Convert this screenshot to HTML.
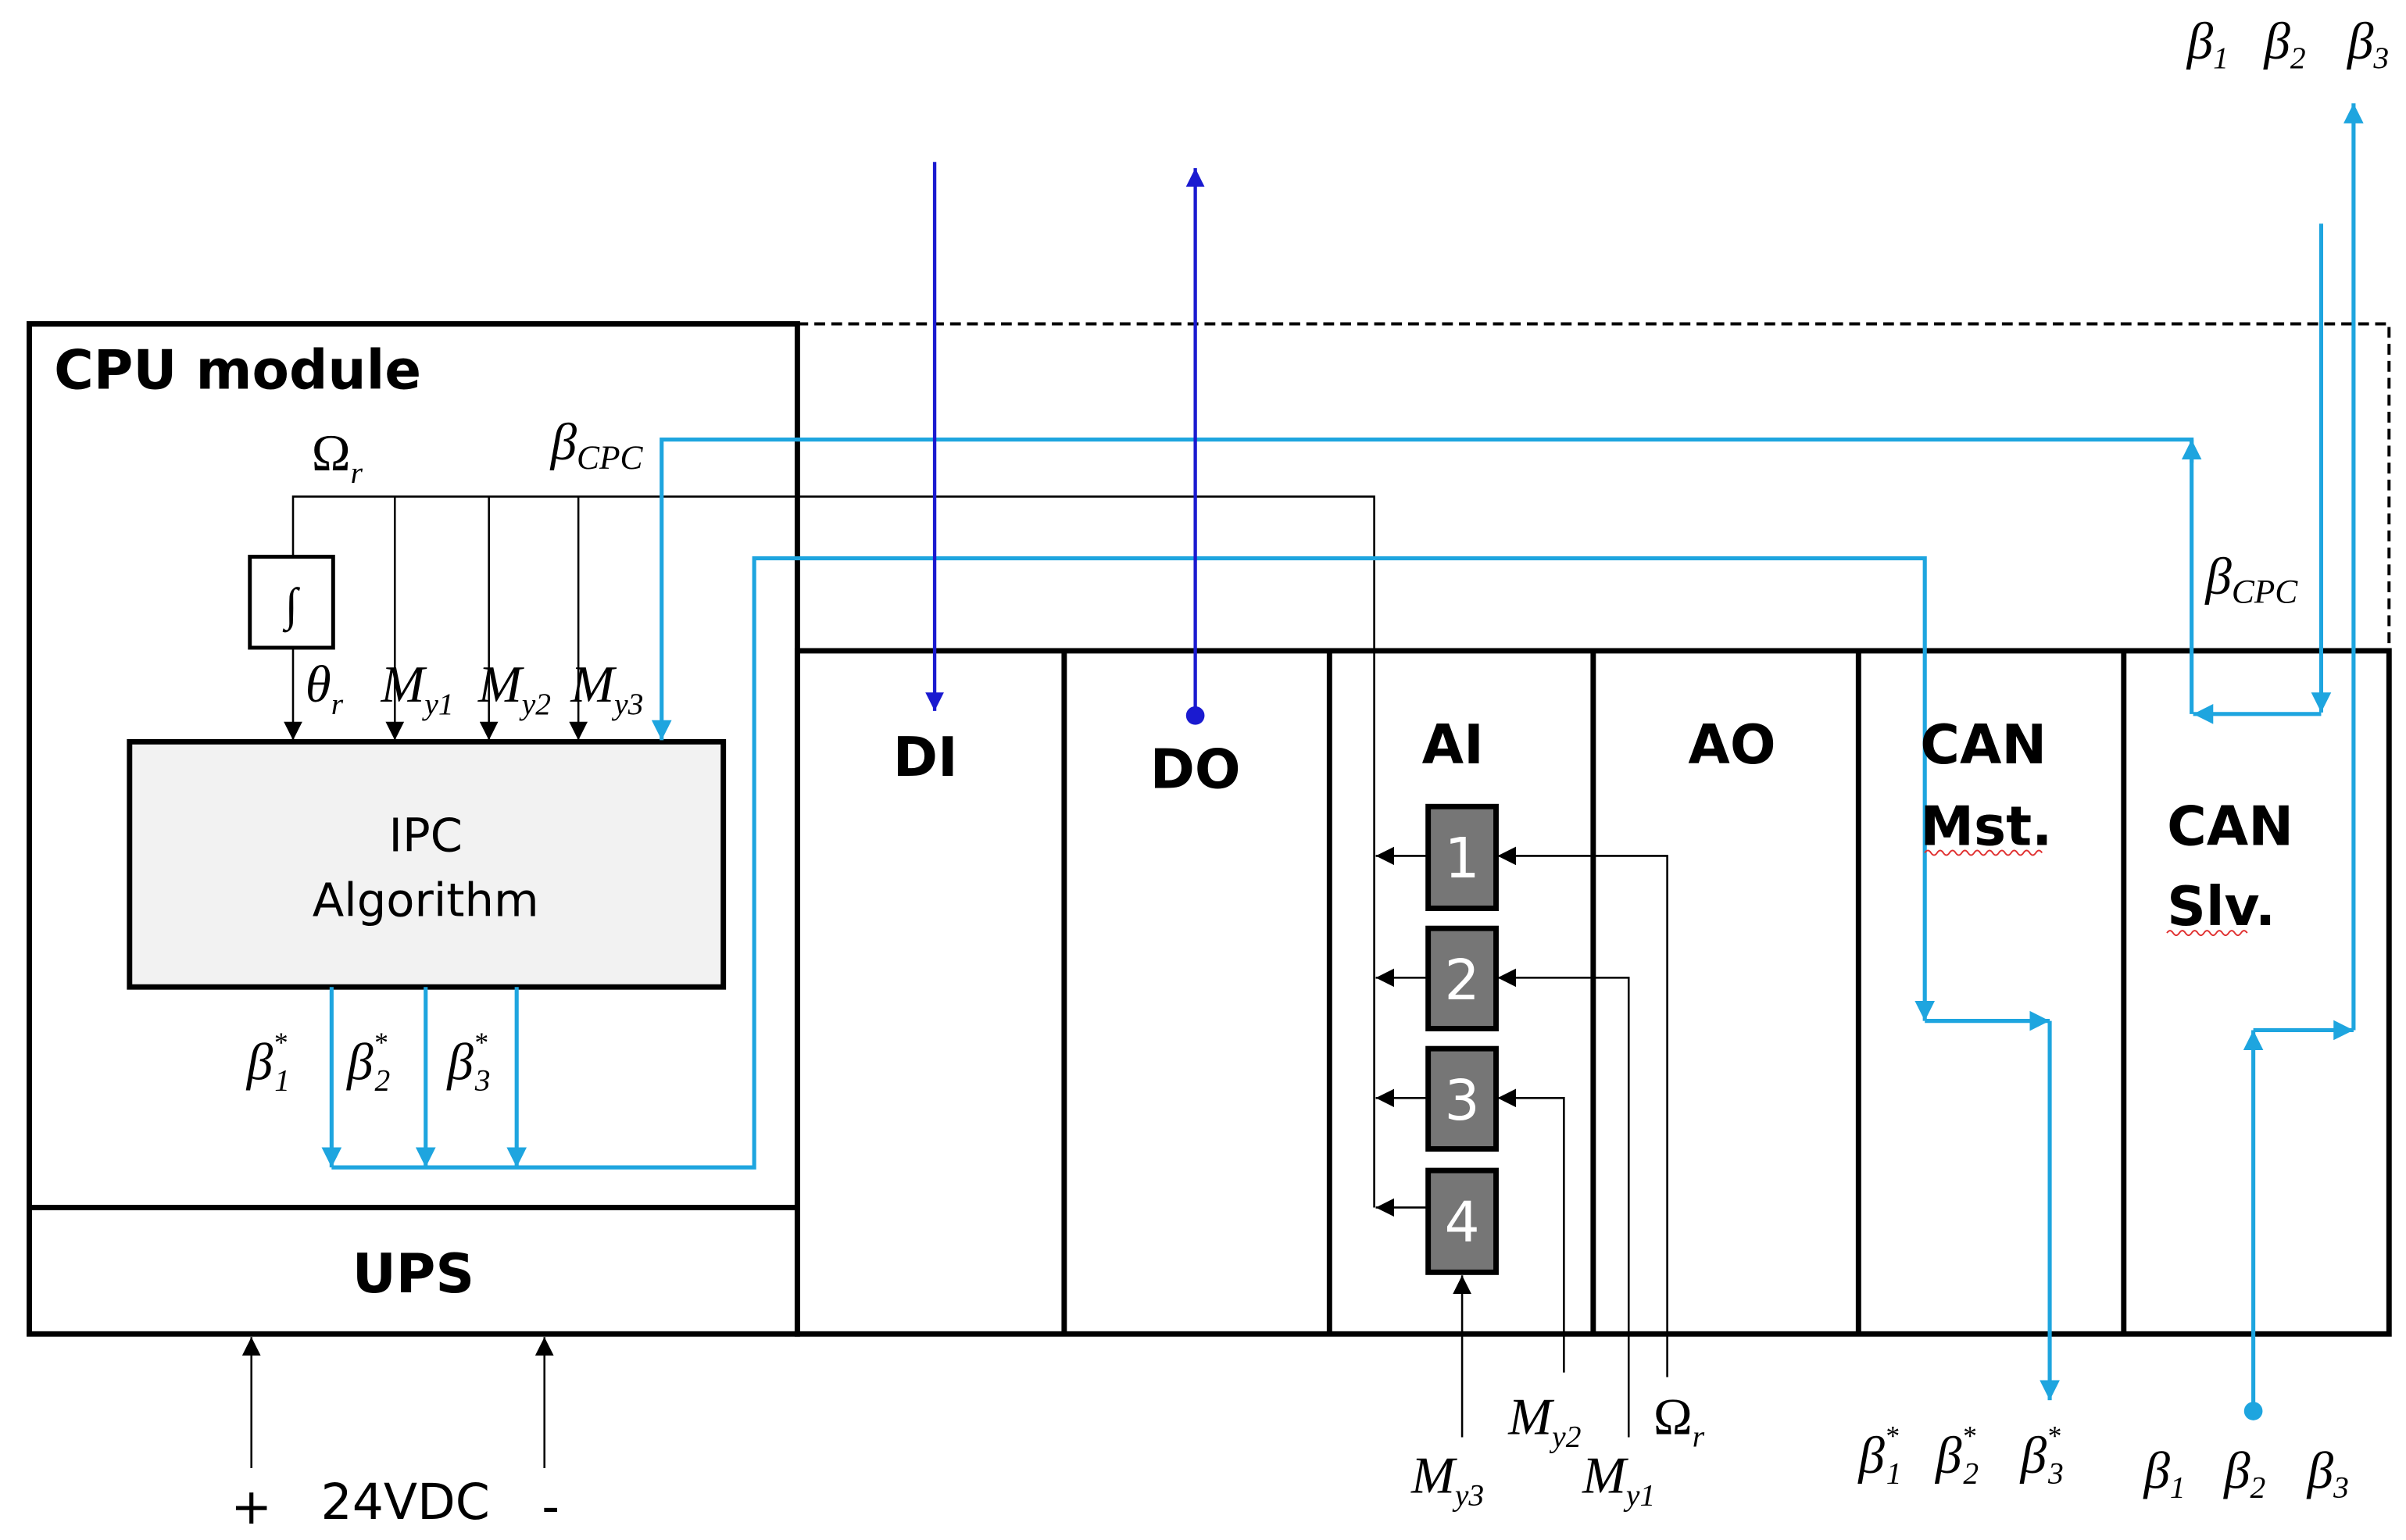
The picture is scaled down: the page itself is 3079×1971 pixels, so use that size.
<!DOCTYPE html>
<html><head><meta charset="utf-8"><style>html,body{margin:0;padding:0;background:#fff}svg{display:block}</style></head>
<body>
<svg width="3079" height="1971" viewBox="0 0 1560 998.6" xmlns="http://www.w3.org/2000/svg">
<defs>
<marker id="ab" viewBox="0 0 10 10" refX="10" refY="5" markerWidth="12" markerHeight="12" markerUnits="userSpaceOnUse" orient="auto"><path d="M0,0L10,5L0,10z" fill="#000"/></marker>
<marker id="au" viewBox="0 0 10 10" refX="10" refY="5" markerWidth="13" markerHeight="13" markerUnits="userSpaceOnUse" orient="auto"><path d="M0,0L10,5L0,10z" fill="#1ea5df"/></marker>
<marker id="ad" viewBox="0 0 10 10" refX="10" refY="5" markerWidth="12" markerHeight="12" markerUnits="userSpaceOnUse" orient="auto"><path d="M0,0L10,5L0,10z" fill="#1a1ad0"/></marker>
</defs>
<rect width="1560" height="998.6" fill="#fff"/>
<path d="M517,210 H1549 V422" fill="none" stroke="#000" stroke-width="2" stroke-dasharray="7,4"/>
<g fill="none" stroke="#000" stroke-width="3.5">
<rect x="517" y="422" width="1032" height="443"/>
<line x1="690" y1="422" x2="690" y2="865"/>
<line x1="862" y1="422" x2="862" y2="865"/>
<line x1="1033" y1="422" x2="1033" y2="865"/>
<line x1="1205" y1="422" x2="1205" y2="865"/>
<line x1="1377" y1="422" x2="1377" y2="865"/>
<rect x="19" y="210" width="498" height="655"/>
<line x1="19" y1="783" x2="517" y2="783"/>
</g>
<g fill="none" stroke="#000" stroke-width="1.3">
<path d="M190,360 V322 H891 V783"/>
<line x1="190" y1="420" x2="190" y2="480" marker-end="url(#ab)"/>
<line x1="256" y1="322" x2="256" y2="480" marker-end="url(#ab)"/>
<line x1="317" y1="322" x2="317" y2="480" marker-end="url(#ab)"/>
<line x1="375" y1="322" x2="375" y2="480" marker-end="url(#ab)"/>
<line x1="925" y1="555" x2="892" y2="555" marker-end="url(#ab)"/>
<line x1="925" y1="634" x2="892" y2="634" marker-end="url(#ab)"/>
<line x1="925" y1="712" x2="892" y2="712" marker-end="url(#ab)"/>
<line x1="925" y1="783" x2="892" y2="783" marker-end="url(#ab)"/>
<path d="M1081,893 V555 H971" marker-end="url(#ab)"/>
<path d="M1056,932 V634 H971" marker-end="url(#ab)"/>
<path d="M1014,890 V712 H971" marker-end="url(#ab)"/>
<line x1="948" y1="932" x2="948" y2="827" marker-end="url(#ab)"/>
<line x1="163" y1="952" x2="163" y2="867" marker-end="url(#ab)"/>
<line x1="353" y1="952" x2="353" y2="867" marker-end="url(#ab)"/>
</g>
<rect x="162" y="361" width="54" height="59" fill="#fff" stroke="#000" stroke-width="2.5"/>
<text x="189" y="402" font-family="Liberation Serif,serif" font-size="30" text-anchor="middle">∫</text>
<rect x="84" y="481" width="385" height="159" fill="#f2f2f2" stroke="#000" stroke-width="3.5"/>
<text x="276" y="552" font-family="DejaVu Sans,sans-serif" font-size="30" text-anchor="middle">IPC</text>
<text x="276" y="594" font-family="DejaVu Sans,sans-serif" font-size="30" text-anchor="middle">Algorithm</text>
<g stroke="#000" stroke-width="3.5" fill="#767676">
<rect x="926" y="523" width="44" height="66"/>
<rect x="926" y="602" width="44" height="65"/>
<rect x="926" y="680" width="44" height="65"/>
<rect x="926" y="759" width="44" height="66"/>
</g>
<g font-family="DejaVu Sans,sans-serif" font-size="36" fill="#fff" text-anchor="middle">
<text x="948" y="569">1</text><text x="948" y="648">2</text><text x="948" y="726">3</text><text x="948" y="805">4</text>
</g>
<g fill="none" stroke="#1ea5df" stroke-width="2.6">
<path d="M1421,463 V285 H429 V480" marker-end="url(#au)"/>
<line x1="1421" y1="300" x2="1421" y2="285" marker-end="url(#au)"/>
<path d="M1505,145 V462" marker-end="url(#au)"/>
<path d="M1505,463 H1422" marker-end="url(#au)"/>
<line x1="215" y1="640" x2="215" y2="757" marker-end="url(#au)"/>
<line x1="276" y1="640" x2="276" y2="757" marker-end="url(#au)"/>
<line x1="335" y1="640" x2="335" y2="757" marker-end="url(#au)"/>
<path d="M215,757 H489 V362 H1248 V662" marker-end="url(#au)"/>
<path d="M1248,662 H1329" marker-end="url(#au)"/>
<path d="M1329,662 V908" marker-end="url(#au)"/>
<path d="M1461,915 V668" marker-end="url(#au)"/>
<path d="M1461,668 H1526" marker-end="url(#au)"/>
<path d="M1526,668 V67" marker-end="url(#au)"/>
</g>
<circle cx="1461" cy="915" r="6" fill="#1ea5df"/>
<line x1="606" y1="105" x2="606" y2="461" stroke="#1a1ad0" stroke-width="2.2" marker-end="url(#ad)"/>
<line x1="775" y1="464" x2="775" y2="109" stroke="#1a1ad0" stroke-width="2.2" marker-end="url(#ad)"/>
<circle cx="775" cy="464" r="6" fill="#1a1ad0"/>
<g font-family="DejaVu Sans,sans-serif" font-weight="bold" font-size="35" fill="#000">
<text x="35" y="252">CPU module</text>
<text x="268" y="838" text-anchor="middle">UPS</text>
<text x="600" y="503" text-anchor="middle">DI</text>
<text x="775" y="511" text-anchor="middle">DO</text>
<text x="942" y="495" text-anchor="middle">AI</text>
<text x="1123" y="495" text-anchor="middle">AO</text>
<text x="1245" y="495">CAN</text>
<text x="1245" y="548">Mst.</text>
<text x="1405" y="548">CAN</text>
<text x="1405" y="600">Slv.</text>
</g>
<path d="M1248,553 q2,-3 4,0 t4,0 t4,0 t4,0 t4,0 t4,0 t4,0 t4,0 t4,0 t4,0 t4,0 t4,0 t4,0 t4,0 t4,0 t4,0 t4,0 t4,0 t4,0" fill="none" stroke="#e03030" stroke-width="1"/>
<path d="M1405,605 q2,-3 4,0 t4,0 t4,0 t4,0 t4,0 t4,0 t4,0 t4,0 t4,0 t4,0 t4,0 t4,0 t4,0" fill="none" stroke="#e03030" stroke-width="1"/>
<g font-family="DejaVu Sans,sans-serif" font-size="32">
<text x="163" y="988" text-anchor="middle">+</text>
<text x="208" y="985">24VDC</text>
<text x="357" y="988" text-anchor="middle">-</text>
</g>
<g font-family="Liberation Serif,serif" font-style="italic" font-size="34" fill="#000">
<text x="202" y="305"><tspan font-style="normal">Ω</tspan><tspan font-size="20" dy="8">r</tspan></text>
<text x="357" y="298">β<tspan font-size="22" dy="6">CPC</tspan></text>
<text x="1430" y="385">β<tspan font-size="22" dy="6">CPC</tspan></text>
<text x="198" y="455">θ<tspan font-size="20" dy="8">r</tspan></text>
<text x="247" y="455">M<tspan font-size="20" dy="8">y1</tspan></text>
<text x="310" y="455">M<tspan font-size="20" dy="8">y2</tspan></text>
<text x="370" y="455">M<tspan font-size="20" dy="8">y3</tspan></text>
<text x="160" y="700">β<tspan font-size="18" dy="-18">*</tspan><tspan font-size="20" dy="25" dx="-8">1</tspan></text>
<text x="225" y="700">β<tspan font-size="18" dy="-18">*</tspan><tspan font-size="20" dy="25" dx="-8">2</tspan></text>
<text x="290" y="700">β<tspan font-size="18" dy="-18">*</tspan><tspan font-size="20" dy="25" dx="-8">3</tspan></text>
<text x="978" y="930">M<tspan font-size="20" dy="8">y2</tspan></text>
<text x="1072" y="930"><tspan font-style="normal">Ω</tspan><tspan font-size="20" dy="8">r</tspan></text>
<text x="915" y="968">M<tspan font-size="20" dy="8">y3</tspan></text>
<text x="1026" y="968">M<tspan font-size="20" dy="8">y1</tspan></text>
<text x="1205" y="955">β<tspan font-size="18" dy="-18">*</tspan><tspan font-size="20" dy="25" dx="-8">1</tspan></text>
<text x="1255" y="955">β<tspan font-size="18" dy="-18">*</tspan><tspan font-size="20" dy="25" dx="-8">2</tspan></text>
<text x="1310" y="955">β<tspan font-size="18" dy="-18">*</tspan><tspan font-size="20" dy="25" dx="-8">3</tspan></text>
<text x="1390" y="965">β<tspan font-size="20" dy="6">1</tspan></text>
<text x="1442" y="965">β<tspan font-size="20" dy="6">2</tspan></text>
<text x="1496" y="965">β<tspan font-size="20" dy="6">3</tspan></text>
<text x="1418" y="38">β<tspan font-size="20" dy="6">1</tspan></text>
<text x="1468" y="38">β<tspan font-size="20" dy="6">2</tspan></text>
<text x="1522" y="38">β<tspan font-size="20" dy="6">3</tspan></text>
</g>
</svg>
</body></html>
